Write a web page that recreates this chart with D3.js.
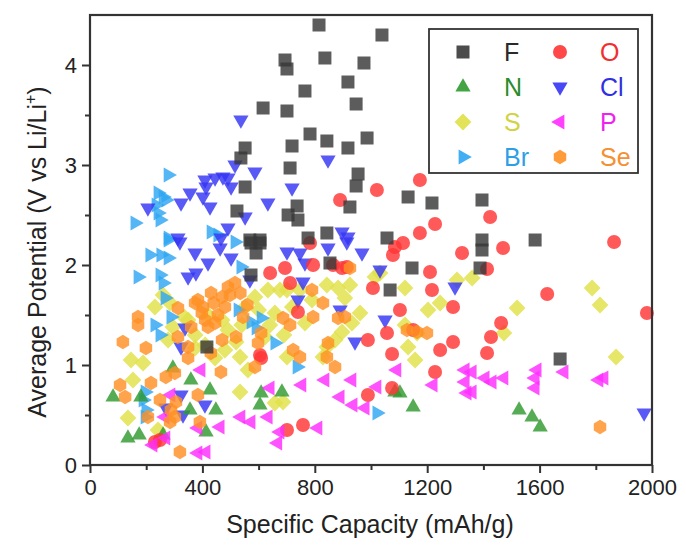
<!DOCTYPE html>
<html>
<head>
<meta charset="utf-8">
<script src="https://cdn.jsdelivr.net/npm/d3@7"></script>
<style>
  html, body { margin: 0; padding: 0; background: #fff; }
  svg { display: block; font-family: "Liberation Sans", Arial, Helvetica, sans-serif; }
</style>
</head>
<body>
<svg id="chart" width="686" height="550"></svg>
<script>
// [specific capacity (mAh/g), average potential (V)] per anion
const fluorine = [[815,4.40],[1039,4.30],[694,4.05],[701,3.96],[836,4.07],[975,4.02],[765,3.74],[918,3.83],[701,3.54],[947,3.61],[616,3.57],[783,3.31],[719,3.19],[843,3.24],[918,3.17],[986,3.27],[712,2.97],[954,2.91],[947,2.79],[737,2.59],[705,2.50],[740,2.45],[925,2.58],[1132,2.68],[1217,2.62],[843,2.32],[776,2.27],[1057,2.27],[552,3.17],[537,3.07],[552,2.78],[523,2.54],[569,2.25],[605,2.25],[1395,2.65],[1395,2.25],[1584,2.25],[573,2.22],[605,2.22],[591,2.12],[573,1.90],[416,1.18],[1146,1.97],[1068,1.75],[854,2.02],[1395,2.15],[1388,1.97],[1673,1.06]];
const nitrogen = [[82,0.68],[135,0.27],[181,0.68],[175,0.30],[295,0.97],[359,0.85],[427,0.75],[448,0.55],[356,0.55],[609,0.72],[605,0.60],[413,0.33],[260,0.30],[683,0.73],[1085,0.73],[1103,0.72],[1150,0.58],[1527,0.55],[1573,0.48],[1602,0.38]];
const sulfur = [[1787,1.77],[1815,1.60],[1520,1.57],[1473,1.32],[1872,1.08],[1360,1.87],[1032,1.92],[1121,1.77],[1203,1.55],[1246,1.62],[1306,1.85],[701,1.75],[843,1.80],[883,1.77],[925,1.80],[907,1.67],[961,1.52],[932,1.42],[897,1.33],[872,1.25],[1121,1.40],[1164,1.32],[1014,1.88],[790,1.65],[747,1.75],[765,1.42],[843,1.18],[676,1.75],[1132,1.18],[1157,1.05],[687,0.63],[829,1.08],[701,1.08],[135,0.47],[534,0.73],[658,0.62],[153,0.85],[146,1.05],[189,1.02],[562,0.95],[534,1.08],[445,1.07],[242,0.35],[260,1.70],[231,1.58],[295,1.38],[374,1.30],[349,1.45],[491,1.35],[520,1.23],[552,1.58],[587,1.68],[633,1.75],[658,1.52],[623,1.28],[278,1.25],[374,1.17],[285,1.62],[335,1.48],[420,1.50],[470,1.45],[540,1.40],[600,1.55],[690,1.30],[640,1.40],[720,1.58],[410,1.20],[480,1.15]];
const bromine = [[278,2.90],[242,2.72],[260,2.68],[270,2.65],[235,2.60],[242,2.52],[249,2.45],[160,2.42],[431,2.33],[455,2.30],[278,2.27],[516,2.23],[213,2.10],[252,2.10],[278,2.07],[171,1.88],[249,1.90],[260,1.82],[278,2.25],[537,1.98],[267,1.67],[288,1.48],[231,1.40],[249,1.30],[527,1.55],[573,1.43],[591,1.37],[658,1.22],[609,1.47],[196,0.73],[189,0.65],[199,0.55],[196,0.48],[737,0.98],[1021,0.52]];
const oxygen = [[1174,2.85],[1021,2.75],[890,2.65],[1228,2.41],[1174,2.32],[1114,2.22],[1424,2.48],[1470,2.17],[1865,2.23],[1413,1.96],[1627,1.71],[1982,1.52],[1463,1.42],[1427,1.28],[1413,1.12],[783,2.22],[1085,2.18],[1078,2.10],[1324,2.12],[694,1.97],[794,2.00],[914,1.98],[1210,1.93],[1007,1.77],[1217,1.75],[1103,1.55],[1292,1.58],[712,1.82],[740,1.53],[1057,1.32],[1150,1.35],[1246,1.15],[1292,1.23],[989,1.25],[1075,1.11],[865,2.00],[897,1.97],[641,1.92],[605,1.10],[1228,0.93],[989,0.70],[1075,0.77],[758,0.40],[701,0.35],[231,0.23],[249,0.25],[609,1.07]];
const chlorine = [[537,3.45],[516,3.00],[587,2.93],[409,2.85],[445,2.87],[473,2.88],[491,2.87],[413,2.78],[502,2.78],[356,2.72],[402,2.68],[324,2.62],[427,2.58],[206,2.57],[552,2.48],[633,2.62],[491,2.37],[313,2.27],[466,2.27],[847,3.05],[719,2.77],[897,2.33],[918,2.28],[320,2.23],[374,2.12],[377,1.92],[349,1.88],[420,2.02],[463,2.17],[502,2.07],[569,1.85],[338,1.37],[324,1.18],[701,2.13],[747,2.12],[847,2.17],[914,2.23],[968,2.12],[765,2.02],[758,1.83],[1032,1.95],[1299,1.78],[740,1.65],[890,1.55],[1050,1.45],[943,1.23],[409,0.60],[324,0.70],[331,0.50],[270,0.57],[1972,0.52]];
const phosphorus = [[641,0.77],[668,0.22],[537,0.48],[573,0.43],[634,0.48],[395,0.95],[384,0.37],[463,0.38],[224,0.20],[270,0.27],[384,0.12],[413,0.13],[288,0.70],[267,0.48],[754,0.80],[836,0.85],[932,0.85],[890,0.68],[936,0.60],[979,0.57],[1021,0.78],[1092,0.95],[1221,0.80],[811,0.37],[676,0.33],[1335,0.95],[1335,0.83],[1342,0.72],[1360,0.93],[1406,0.87],[1431,0.83],[1473,0.87],[1360,0.73],[1591,0.95],[1584,0.87],[1584,0.77],[1687,0.93],[1811,0.85],[1829,0.87]];
const selenium = [[1815,0.38],[107,0.80],[125,0.68],[217,0.82],[270,0.88],[302,0.92],[349,1.07],[466,0.93],[249,0.65],[306,0.63],[206,0.48],[288,0.55],[302,0.48],[285,0.43],[320,0.13],[391,0.43],[384,0.70],[587,0.98],[313,1.57],[374,1.62],[402,1.58],[384,1.65],[431,1.72],[455,1.50],[480,1.58],[491,1.78],[516,1.82],[498,1.70],[445,1.42],[420,1.38],[171,1.48],[171,1.40],[117,1.23],[199,1.17],[313,1.28],[349,1.18],[520,1.28],[598,1.22],[609,1.32],[790,1.75],[829,1.62],[794,1.48],[712,1.40],[687,1.47],[883,1.47],[907,1.48],[723,1.15],[847,1.22],[1128,1.35],[1164,1.33],[1199,1.32],[925,1.97],[872,0.98],[843,1.08],[747,1.08],[398,1.52],[440,1.62],[470,1.68],[535,1.72],[560,1.60],[410,1.45],[360,1.38],[470,1.25],[545,1.48],[430,1.12]];

const capacityTicks = [0, 400, 800, 1200, 1600, 2000];
const potentialTicks = [0, 1, 2, 3, 4];

// Regular polygon path centred on the origin; angles in degrees
function polygon(n, r, startDeg) {
  const pts = d3.range(n).map(i => {
    const a = (startDeg + i * 360 / n) * Math.PI / 180;
    return [r * Math.cos(a), r * Math.sin(a)];
  });
  return "M" + pts.map(p => p[0].toFixed(2) + "," + p[1].toFixed(2)).join("L") + "Z";
}
const shapes = {
  square:   "M-6.5,-6.5H6.5V6.5H-6.5Z",
  circle:   d3.symbol(d3.symbolCircle, Math.PI * 7 * 7)(),
  triUp:    polygon(3, 8.8, -90),
  triDown:  polygon(3, 8.8, 90),
  triRight: polygon(3, 8.8, 0),
  triLeft:  polygon(3, 8.8, 180),
  diamond:  polygon(4, 8.4, -90),
  hexagon:  polygon(6, 7.2, -90)
};

const series = [
  { name: "S",  data: sulfur,     shape: "diamond",  color: "#e0e048", text: "#d2d243" },
  { name: "Br", data: bromine,    shape: "triRight", color: "#2ea6f2", text: "#2d9fe6" },
  { name: "Cl", data: chlorine,   shape: "triDown",  color: "#3434f4", text: "#3030e0" },
  { name: "N",  data: nitrogen,   shape: "triUp",    color: "#2f9a2f", text: "#2b8c2b" },
  { name: "O",  data: oxygen,     shape: "circle",   color: "#ff3434", text: "#f03030" },
  { name: "P",  data: phosphorus, shape: "triLeft",  color: "#ff2cff", text: "#ee22ee" },
  { name: "Se", data: selenium,   shape: "hexagon",  color: "#ff9024", text: "#f59030" },
  { name: "F",  data: fluorine,   shape: "square",   color: "#383838", text: "#2a2a2a" }
];
const byName = Object.fromEntries(series.map(s => [s.name, s]));

const svg = d3.select("#chart");
const x = d3.scaleLinear().domain([0, 2000]).range([90, 652]);
const y = d3.scaleLinear().domain([0, 4.5]).range([465, 15]);

// points
series.forEach(s => {
  svg.append("g").selectAll("path").data(s.data).join("path")
    .attr("d", shapes[s.shape])
    .attr("transform", d => `translate(${x(d[0])},${y(d[1])})`)
    .attr("fill", s.color)
    .attr("fill-opacity", 0.82);
});

// frame
svg.append("rect")
  .attr("x", x(0)).attr("y", y(4.5))
  .attr("width", x(2000) - x(0)).attr("height", y(0) - y(4.5))
  .attr("fill", "none").attr("stroke", "#333").attr("stroke-width", 2.2);

// axes
const styleAxis = g => {
  g.select(".domain").remove();
  g.selectAll(".tick line").attr("stroke", "#333").attr("stroke-width", 2);
  g.selectAll(".tick text").attr("fill", "#222").attr("font-size", 22);
};
svg.append("g").attr("transform", `translate(0,${y(0)})`)
  .call(d3.axisBottom(x).tickValues(d3.range(200, 2000, 400)).tickSize(5).tickFormat(""))
  .call(styleAxis);
svg.append("g").attr("transform", `translate(0,${y(0)})`)
  .call(d3.axisBottom(x).tickValues(capacityTicks).tickSize(8).tickPadding(6).tickFormat(d3.format("d")))
  .call(styleAxis);
svg.append("g").attr("transform", `translate(${x(0)},0)`)
  .call(d3.axisLeft(y).tickValues(d3.range(0.5, 4.5, 1)).tickSize(5).tickFormat(""))
  .call(styleAxis);
svg.append("g").attr("transform", `translate(${x(0)},0)`)
  .call(d3.axisLeft(y).tickValues(potentialTicks).tickSize(8).tickPadding(5).tickFormat(d3.format("d")))
  .call(styleAxis);

// axis titles
svg.append("text")
  .attr("x", 370).attr("y", 533).attr("text-anchor", "middle")
  .attr("font-size", 25).attr("fill", "#222")
  .text("Specific Capacity (mAh/g)");
const yt = svg.append("text")
  .attr("transform", "translate(46,252) rotate(-90)")
  .attr("text-anchor", "middle").attr("font-size", 25).attr("fill", "#222");
yt.append("tspan").text("Average Potential (V vs Li/Li");
yt.append("tspan").attr("font-size", 16).attr("dy", -10).text("+");
yt.append("tspan").attr("dy", 10).text(")");

// legend
const legend = svg.append("g");
legend.append("rect")
  .attr("x", 429).attr("y", 29).attr("width", 209).attr("height", 144)
  .attr("fill", "#fff").attr("stroke", "#333").attr("stroke-width", 1.8);
const legendRows = [["F", "O"], ["N", "Cl"], ["S", "P"], ["Br", "Se"]];
const rowY = [52, 87, 122, 157];
legendRows.forEach((row, i) => {
  row.forEach((name, j) => {
    const s = byName[name];
    const sx = j === 0 ? 463 : 560;
    const tx = j === 0 ? 504 : 600;
    legend.append("path")
      .attr("d", shapes[s.shape])
      .attr("transform", `translate(${sx},${rowY[i]})`)
      .attr("fill", s.color).attr("fill-opacity", 0.9);
    legend.append("text")
      .attr("x", tx).attr("y", rowY[i] + 9)
      .attr("font-size", 25).attr("fill", s.text)
      .text(name);
  });
});
</script>
</body>
</html>
